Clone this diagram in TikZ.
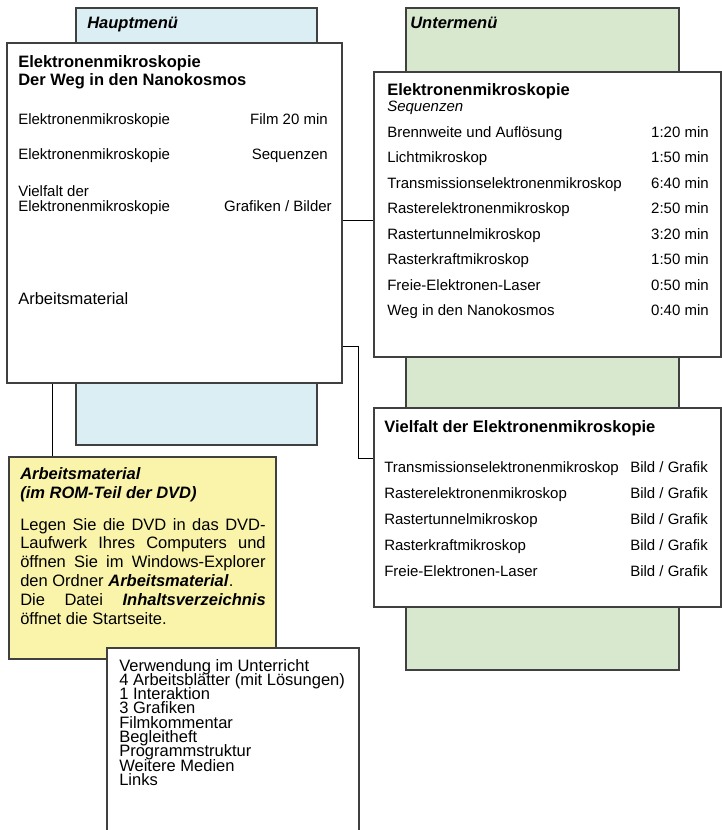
\documentclass[tikz,border=0pt]{standalone}
\usepackage{fontspec}
\setmainfont{Liberation Sans}
\usetikzlibrary{fit}
\definecolor{menublau}{HTML}{DAEEF3}
\definecolor{menugruen}{HTML}{D8E8CE}
\definecolor{notizgelb}{HTML}{FAF3AA}
\newcommand{\zehn}{\fontsize{10}{12}\selectfont}
\newcommand{\elf}{\fontsize{11}{12.6}\selectfont}

\begin{document}
\begin{tikzpicture}[x=0.6667pt,y=-0.6667pt,
   panel/.style={draw=black!75,line width=0.9pt,inner sep=0pt},
   link/.style={line width=0.6pt},
   txt/.style={inner sep=0pt,anchor=base west,font=\zehn},
   txtr/.style={inner sep=0pt,anchor=base east,font=\zehn}]
   \useasboundingbox (0,0) rectangle (722,830);
   \clip (0,0) rectangle (722,830);
   % Hintergrund
   \node[panel,fill=menublau, fit={(76,8) (317,445)}]  (haupt) {};
   \node[panel,fill=menugruen,fit={(406,8) (679,670)}] (unter) {};
   \node[txt,font=\elf\bfseries\itshape] (hauptlbl) at (87,28)  {Hauptmenü};
   \node[txt,font=\elf\bfseries\itshape] (unterlbl) at (410,28) {Untermenü};
   % Hauptmenue
   \node[panel,fill=white,fit={(7,43) (342,383)}] (hm) {};
   \node[txt,font=\elf\bfseries] (titel1) at (18,67) {Elektronenmikroskopie};
   \node[txt,font=\elf\bfseries] (titel2) at (18,85) {Der Weg in den Nanokosmos};
   \node[txt]  (film)   at (18,124)  {Elektronenmikroskopie};
   \node[txtr] (filmr)  at (328,124) {Film 20 min};
   \node[txt]  (sequ)   at (18,159)  {Elektronenmikroskopie};
   \node[txtr] (sequr)  at (328,159) {Sequenzen};
   \node[txt]  (viel1)  at (18,196)  {Vielfalt der};
   \node[txt]  (viel2)  at (18,211)  {Elektronenmikroskopie};
   \node[txtr] (vielr)  at (332,211) {Grafiken / Bilder};
   \node[txt,font=\elf] (arbeit) at (18,304) {Arbeitsmaterial};
   % Untermenue Sequenzen
   \node[panel,fill=white,fit={(374,72) (721,357)}] (seq) {};
   \node[txt,font=\elf\bfseries] (seqtitel) at (387,95) {Elektronenmikroskopie};
   \node[txt,font=\zehn\itshape] (seqsub) at (387,111) {Sequenzen};
   \foreach \name/\zeit [count=\i] in {Brennweite und Auflösung/1:20 min,
      Lichtmikroskop/1:50 min, Transmissionselektronenmikroskop/6:40 min,
      Rasterelektronenmikroskop/2:50 min, Rastertunnelmikroskop/3:20 min,
      Rasterkraftmikroskop/1:50 min, Freie-Elektronen-Laser/0:50 min,
      Weg in den Nanokosmos/0:40 min} {
      \node[txt]  (seq\i)  at (387,{137+25.5*(\i-1)}) {\name};
      \node[txtr] (seqz\i) at (709,{137+25.5*(\i-1)}) {\zeit};
   }
   % Untermenue Vielfalt
   \node[panel,fill=white,fit={(374,408) (721,607)}] (vielfalt) {};
   \node[txt,font=\elf\bfseries] (vftitel) at (384,432) {Vielfalt der Elektronenmikroskopie};
   \foreach \name [count=\i] in {Transmissionselektronenmikroskop,
      Rasterelektronenmikroskop, Rastertunnelmikroskop,
      Rasterkraftmikroskop, Freie-Elektronen-Laser} {
      \node[txt] (vf\i)  at (384,{472+26*(\i-1)}) {\name};
      \node[txt] (vfb\i) at (630,{472+26*(\i-1)}) {Bild / Grafik};
   }
   % Arbeitsmaterial
   \node[panel,fill=notizgelb,fit={(9,457) (276,659)}] (am) {};
   \node[txt,font=\elf\bfseries\itshape] (amtitel) at (20,479) {Arbeitsmaterial};
   \node[txt,font=\elf\bfseries\itshape] (amrom)   at (20,498) {(im ROM-Teil der DVD)};
   \node[txt,font=\elf,text width=163.6pt,align=justify] (amtext) at (20,530)
      {\tolerance=9999\hyphenpenalty=10000
       Legen Sie die DVD in das DVD-\linebreak Laufwerk Ihres Computers und\linebreak
       öffnen Sie im Windows-Explorer\linebreak den Ordner
       \textbf{\textit{Arbeitsmaterial}}.\newline Die Datei
       \textbf{\textit{Inhaltsverzeichnis}}\linebreak öffnet die Startseite.};
   \node[panel,fill=white,fit={(107,648) (359,845)}] (liste) {};
   \foreach \name [count=\i] in {Verwendung im Unterricht,
      4 Arbeitsblätter (mit Lösungen), 1 Interaktion, 3 Grafiken,
      Filmkommentar, Begleitheft, Programmstruktur, Weitere Medien, Links} {
      \node[txt,font=\elf] (li\i) at (119,{671+14.3*(\i-1)}) {\name};
   }
   % Verbindungen
   \coordinate (k1) at (0,220);
   \coordinate (k2) at (358,346);
   \coordinate (k3) at (0,458);
   \coordinate (k4) at (52,0);
   \draw[link] (hm.east |- k1) -- (seq.west |- k1);
   \draw[link] (hm.east |- k2) -- (k2) |- (vielfalt.west |- k3);
   \draw[link] (hm.south -| k4) -- (am.north -| k4);
\end{tikzpicture}
\end{document}
